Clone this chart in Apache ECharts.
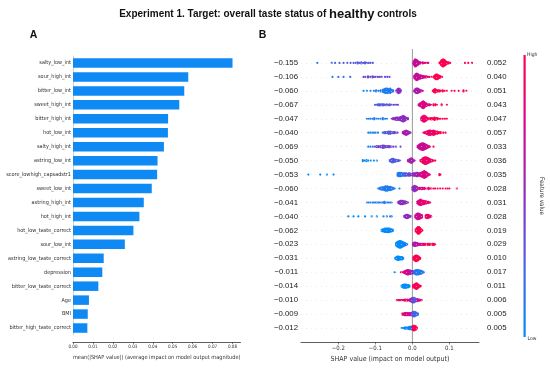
<!DOCTYPE html>
<html>
<head>
<meta charset="utf-8">
<script src="https://cdn.jsdelivr.net/npm/echarts@6/dist/echarts.min.js"></script>
<style>html,body{margin:0;padding:0;background:#fff}#c{width:550px;height:370px}</style>
</head>
<body>
<div id="c"></div>
<script>
// ---- data ----
const categories = ['salty_low_int','sour_high_int','bitter_low_int','sweet_high_int','bitter_high_int','hot_low_int','salty_high_int','astring_low_int','score_lowhigh_capsadstr1','sweet_low_int','astring_high_int','hot_high_int','hot_low_taste_correct','sour_low_int','astring_low_taste_correct','depression','bitter_low_taste_correct','Age','BMI','bitter_high_taste_correct'];
const meanAbsShap = [0.0800,0.0578,0.0558,0.0533,0.0477,0.0476,0.0456,0.0424,0.0422,0.0395,0.0355,0.0333,0.0303,0.0260,0.0154,0.0147,0.0127,0.0080,0.0074,0.0072];
const minLabels = ['−0.155','−0.106','−0.060','−0.067','−0.047','−0.040','−0.069','−0.050','−0.053','−0.060','−0.041','−0.040','−0.062','−0.023','−0.031','−0.011','−0.014','−0.010','−0.009','−0.012'];
const maxLabels = ['0.052','0.040','0.051','0.043','0.047','0.057','0.033','0.036','0.035','0.028','0.031','0.028','0.019','0.029','0.010','0.017','0.011','0.006','0.005','0.005'];
const barTicks = [0,0.01,0.02,0.03,0.04,0.05,0.06,0.07,0.08];
const shapTicks = [-0.2,-0.1,0,0.1];

// beeswarm rows: [SHAP value x1000, feature value (0 low .. 10 high), dots stacked at that x]
const sw_salty_low_int = [[-257,1,1],[-218,2,1],[-209,2,1],[-197,3,1],[-186,3,1],[-176,3,1],[-167,3,1],[-159,3,1],[-153,3,1],[-148,3,2],[-143,3,1],[-138,3,2],[-133,3,1],[-128,3,2],[-123,3,1],[-118,3,1],[-113,3,1],[-107,3,1],
 [3,7,3],[5,7,5],[7,7,7],[9,7,7],[11,7,6],[13,7,5],[15,7,4],[17,7,3],[19,7,2],[21,7,2],[24,8,1],[28,8,2],[32,8,1],[36,8,1],[40,8,1],[43,8,1],
 [73,10,1],[76,10,3],[78,10,5],[80,10,6],[82,10,7],[84,10,7],[86,10,6],[88,10,5],[90,10,4],[92,10,3],[95,10,2],[98,10,2],[102,10,1],[142,10,1],[151,10,1],[161,10,1]];
const sw_sour_high_int = [[-216,1,1],[-200,2,1],[-186,2,1],[-168,2,1],[-132,4,1],[-127,4,1],[-120,4,2],[-114,4,1],[-108,4,2],[-104,4,1],[-99,4,1],[-93,4,1],[-88,4,1],[-83,4,1],[-74,4,1],[-68,4,1],[-62,4,1],
 [5,7,3],[8,7,5],[10,7,6],[12,7,7],[14,7,6],[16,7,5],[19,7,4],[22,7,4],[25,7,3],[28,7,3],[31,8,2],[34,8,2],[38,8,2],[42,8,1],[46,8,1],[52,9,1],
 [58,10,2],[61,10,4],[64,10,5],[67,10,5],[70,10,4],[73,10,3],[76,10,2],[80,10,1]];
const sw_bitter_low_int = [[-132,0,1],[-123,0,1],[-113,0,1],[-104,1,1],[-98,1,2],[-92,1,1],[-86,1,2],[-80,1,3],[-76,1,4],[-72,1,5],[-68,1,5],[-64,1,4],[-60,1,5],[-56,1,3],[-52,1,2],
 [-43,5,2],[-40,5,4],[-37,5,5],[-34,5,4],[-31,5,2],
 [5,6,2],[8,6,4],[11,6,5],[14,6,5],[17,6,4],[20,7,3],[24,7,2],[28,7,1],
 [55,10,1],[58,10,3],[61,10,4],[64,10,3],[67,10,2],[70,10,2],[74,10,2],[78,10,1],[82,10,2],[87,10,1],[93,10,1],[106,10,1],[114,10,1],[125,10,1],[138,10,2],[146,10,1]];
const sw_sweet_high_int = [[-101,2,1],[-97,2,1],[-93,3,2],[-89,3,2],[-85,3,2],[-81,3,2],[-77,3,2],[-73,3,1],[-69,3,2],[-65,3,1],[-61,3,2],[-56,3,1],[-50,4,1],[-44,4,1],[-39,4,1],
 [17,7,2],[20,7,3],[23,8,4],[26,8,6],[29,8,7],[32,8,6],[35,8,4],[38,8,3],[42,8,2],[46,8,2],[50,8,1],
 [57,10,2],[62,10,2],[66,10,1],[79,10,2],[93,10,1]];
const sw_bitter_high_int = [[-123,0,1],[-118,0,1],[-113,1,1],[-108,1,1],[-103,1,2],[-97,1,1],[-92,1,1],[-86,1,1],[-80,1,2],[-74,1,1],[-69,1,1],
 [-56,5,1],[-52,5,2],[-48,5,2],[-44,5,3],[-40,5,3],[-36,5,3],[-32,5,4],[-28,5,5],[-25,5,6],[-22,5,5],[-19,5,4],[-16,5,2],[-12,5,2],
 [24,9,3],[27,9,5],[30,9,6],[33,9,6],[36,9,5],[39,9,3],[42,9,2],
 [48,10,2],[52,10,2],[56,10,2],[60,10,3],[64,10,2],[68,10,2],[72,10,1],[76,10,1],[82,10,1],[88,10,1],[93,10,1]];
const sw_hot_low_int = [[-119,0,1],[-114,0,1],[-109,1,1],[-104,1,1],[-99,1,1],[-93,1,1],
 [-80,2,1],[-76,2,2],[-72,3,2],[-68,3,2],[-64,3,3],[-60,3,3],[-56,3,2],[-52,3,2],[-48,4,2],[-44,4,1],[-40,4,1],
 [-26,6,2],[-23,6,3],[-20,6,4],[-17,6,5],[-14,6,4],[-11,6,3],[-8,5,2],[-5,5,1],
 [30,9,1],[34,9,2],[38,9,3],[42,9,4],[45,9,5],[48,9,5],[51,9,4],[54,9,4],[57,9,5],[60,9,4],[63,9,3],[67,10,3],[71,10,2],[75,10,2],[79,10,1],[84,10,1],[90,10,1]];
const sw_salty_high_int = [[-119,1,1],[-113,1,1],[-107,1,1],[-101,4,1],[-96,4,2],[-91,4,2],[-86,4,2],[-81,4,3],[-77,4,3],[-73,4,2],[-69,4,2],[-65,4,2],[-61,4,2],[-56,4,1],[-51,4,1],[-44,4,1],[-32,4,1],
 [14,7,2],[17,7,4],[20,7,5],[23,7,6],[26,7,7],[29,7,7],[32,7,6],[35,7,5],[38,7,4],[41,8,3],[44,8,2],[47,8,1],[57,9,1]];
const sw_astring_low_int = [[-134,0,2],[-129,0,1],[-124,0,2],[-119,0,1],[-112,0,1],[-104,0,1],[-96,0,1],
 [-61,2,2],[-58,2,3],[-55,3,4],[-52,3,4],[-49,3,3],[-46,3,3],[-42,3,2],[-38,3,2],[-34,3,1],
 [-12,6,2],[-9,6,3],[-6,6,4],[-3,6,5],[0,6,4],[3,6,2],[6,6,1],
 [22,9,2],[25,9,3],[28,9,5],[31,9,6],[34,9,7],[37,9,7],[40,9,6],[43,9,5],[46,9,4],[50,9,3],[54,9,2],[58,10,1],[62,10,1]];
const sw_score_lowhigh_capsadstr1 = [[-281,0,1],[-249,0,1],[-231,0,1],[-213,0,1],
 [-40,1,3],[-37,1,4],[-34,1,4],[-31,1,4],[-28,2,3],[-25,2,3],[-22,2,3],[-19,3,3],[-16,3,3],[-13,3,2],[-10,4,3],[-7,4,3],[-4,4,2],[-1,5,2],[2,5,3],[5,5,3],[8,6,3],[11,6,4],[14,6,4],[17,6,3],[20,7,3],[23,7,4],
 [26,8,5],[29,8,6],[32,8,7],[35,8,6],[38,8,5],[41,8,3],[44,8,2],[47,8,1],[73,10,2],[76,10,1]];
const sw_sweet_low_int = [[-92,1,1],[-88,1,2],[-84,1,3],[-80,1,3],[-76,1,4],[-72,1,5],[-68,1,5],[-64,1,4],[-60,1,4],[-56,1,3],[-52,1,2],[-48,1,1],[-35,1,1],
 [0,5,3],[3,5,5],[6,5,6],[9,5,5],[12,6,4],[15,6,2],
 [20,8,2],[24,8,2],[28,8,2],[32,8,2],[36,8,1],[40,9,1],[44,9,2],[48,9,1],[52,9,1],[58,10,1],[62,10,1],[68,10,1],[75,10,1],[82,10,1],[90,10,1],[95,10,1],[100,10,1],[120,10,1]];
const sw_astring_high_int = [[-123,1,1],[-118,1,1],[-113,1,1],[-108,1,1],[-104,1,1],[-100,1,1],[-96,1,1],[-92,1,1],[-88,1,1],[-84,1,1],[-80,1,1],[-76,1,2],[-72,1,1],[-68,1,1],[-64,1,1],[-60,1,1],[-56,1,1],
 [-38,5,2],[-35,5,3],[-32,5,4],[-29,5,4],[-26,5,4],[-23,5,3],[-20,5,3],[-16,5,2],[-12,5,1],
 [13,8,2],[16,8,4],[19,8,5],[22,8,6],[25,8,5],[28,9,4],[31,9,4],[34,9,3],[37,9,3],[40,9,2],[44,9,2],[48,9,1]];
const sw_hot_high_int = [[-173,0,1],[-159,0,1],[-146,0,1],[-128,0,1],[-110,0,1],[-96,0,1],[-78,1,1],[-69,1,1],[-60,1,1],[-56,1,1],
 [-22,5,2],[-19,5,3],[-16,5,4],[-13,5,4],[-10,5,3],[-7,5,2],[-4,5,1],
 [8,7,3],[11,7,5],[14,7,6],[17,7,6],[20,7,5],[23,8,4],[26,8,3],
 [36,9,3],[39,9,4],[42,9,4],[45,9,3],[48,9,2],[51,9,1]];
const sw_hot_low_taste_correct = [[-83,0,2],[-80,0,3],[-77,0,3],[-74,0,4],[-71,0,4],[-68,0,4],[-65,0,4],[-62,0,4],[-59,0,3],[-56,0,3],[-53,0,2],
 [9,10,3],[12,10,5],[15,10,7],[18,10,7],[21,10,5],[24,10,3],[27,10,1]];
const sw_sour_low_int = [[-44,0,3],[-41,0,5],[-38,0,6],[-35,0,7],[-32,0,7],[-29,0,6],[-26,0,5],[-23,0,4],[-20,1,3],[-17,1,2],[-14,1,1],
 [2,6,3],[5,6,4],[8,6,4],[11,7,3],[14,7,3],[17,7,2],[20,7,2],[23,8,2],[26,8,2],
 [30,9,2],[34,9,2],[38,10,1],[42,10,2],[46,10,2],[50,10,1],[54,10,2],[58,10,2],[61,10,1]];
const sw_astring_low_taste_correct = [[-46,0,2],[-43,0,3],[-40,0,4],[-37,0,4],[-34,0,3],[-31,0,3],[-28,0,3],[-25,0,2],
 [3,10,3],[6,10,5],[9,10,6],[12,10,6],[15,10,5],[18,10,3],[21,10,2]];
const sw_depression = [[-48,0,1],[-31,10,1],[-27,10,1],[-23,8,2],[-20,8,3],[-17,8,4],[-14,7,5],[-11,7,5],[-8,7,4],[-5,6,4],[-2,6,3],[1,5,3],[4,3,3],[7,2,4],[10,1,5],[13,1,5],[16,1,5],[19,1,4],[22,1,4],[25,1,3],[28,1,2],[31,1,1]];
const sw_bitter_low_taste_correct = [[-29,0,2],[-26,0,3],[-23,0,4],[-20,0,4],[-17,0,4],[-14,0,3],[-11,0,3],[-8,0,2],
 [2,10,3],[5,10,4],[8,10,5],[11,10,6],[14,10,5],[17,10,3],[20,10,2],[23,10,1]];
const sw_Age = [[-42,9,1],[-38,9,1],[-35,9,1],[-32,9,1],[-29,9,1],[-26,9,1],[-23,9,1],[-20,9,2],[-17,9,1],[-14,9,2],[-11,9,1],[-8,8,2],[-5,6,3],[-2,5,4],[1,4,5],[4,3,5],[7,3,4],[10,3,3],[13,5,3],[16,7,2],[19,8,2],[22,9,1],[25,9,1]];
const sw_BMI = [[-27,9,2],[-24,9,2],[-21,9,3],[-18,8,3],[-15,8,3],[-12,8,3],[-9,7,3],[-6,7,3],[-3,6,3],[0,4,4],[3,3,5],[6,2,5],[9,2,4],[12,2,3],[15,2,2]];
const sw_bitter_high_taste_correct = [[-29,0,1],[-25,0,1],[-21,0,2],[-18,0,2],[-15,0,2],[-12,0,2],[-9,0,3],[-6,0,3],[-3,1,3],[0,9,4],[3,10,5],[6,10,5],[9,10,4],[12,10,2]];

const swarmRows = [sw_salty_low_int, sw_sour_high_int, sw_bitter_low_int, sw_sweet_high_int, sw_bitter_high_int, sw_hot_low_int, sw_salty_high_int, sw_astring_low_int, sw_score_lowhigh_capsadstr1, sw_sweet_low_int, sw_astring_high_int, sw_hot_high_int, sw_hot_low_taste_correct, sw_sour_low_int, sw_astring_low_taste_correct, sw_depression, sw_bitter_low_taste_correct, sw_Age, sw_BMI, sw_bitter_high_taste_correct];

// ---- beeswarm layout (stack coincident dots around the row centre) ----
const STEP = 0.08;
const swarmData = [];
swarmRows.forEach((row, r) => {
  row.forEach(([x, v, n]) => {
    for (let k = 0; k < n; k++) {
      swarmData.push([x / 1000, r + (k - (n - 1) / 2) * STEP, v]);
    }
  });
});

const narrow = "'Liberation Sans Narrow', 'DejaVu Sans Condensed', 'Liberation Sans', sans-serif";
const arial = "'Liberation Sans', Arial, sans-serif";
const cmap = ['#008bfb', '#4a63e3', '#8a2fc0', '#d6058c', '#ff0051'];

const chart = echarts.init(document.getElementById('c'), null, { renderer: 'canvas' });
chart.setOption({
  animation: false,
  grid: [
    { left: 73, top: 56, width: 167.5, height: 279, containLabel: false, outerBoundsMode: 'none' },
    { left: 301, top: 49, width: 178, height: 293, containLabel: false, outerBoundsMode: 'none' }
  ],
  xAxis: [
    { gridIndex: 0, type: 'value', min: 0, max: 0.084, offset: 7,
      axisLine: { show: true, onZero: false, lineStyle: { color: '#333', width: 0.8 } },
      axisTick: { show: true, length: 2, lineStyle: { color: '#333', width: 0.6 }, customValues: barTicks },
      axisLabel: { customValues: barTicks, formatter: v => v.toFixed(2), fontFamily: narrow, fontSize: 4.6, color: '#333', margin: 2.5 },
      splitLine: { show: false },
      name: 'mean(|SHAP value|) (average impact on model output magnitude)', nameLocation: 'middle', nameGap: 11,
      nameTextStyle: { fontFamily: narrow, fontSize: 5.6, color: '#333' } },
    { gridIndex: 1, type: 'value', min: -0.301, max: 0.18,
      axisLine: { show: true, onZero: false, lineStyle: { color: '#333', width: 0.8 } },
      axisTick: { show: true, length: 2.5, lineStyle: { color: '#333', width: 0.6 }, customValues: shapTicks },
      axisLabel: { customValues: shapTicks, formatter: v => (Math.abs(v) < 1e-9 ? '0.0' : (v < 0 ? '−' : '') + Math.abs(v).toFixed(1)), fontFamily: narrow, fontSize: 6, color: '#333', margin: 3 },
      splitLine: { show: false },
      name: 'SHAP value (impact on model output)', nameLocation: 'middle', nameGap: 12,
      nameTextStyle: { fontFamily: narrow, fontSize: 7, color: '#333' } }
  ],
  yAxis: [
    { gridIndex: 0, type: 'category', data: categories, inverse: true,
      axisLine: { show: true, onZero: false, lineStyle: { color: '#cfcfcf', width: 1 } },
      axisTick: { show: false },
      axisLabel: { fontFamily: narrow, fontSize: 5.5, color: '#333', margin: 2 } },
    { gridIndex: 1, type: 'value', min: -1, max: 20, interval: 1, inverse: true,
      axisLine: { show: false, onZero: false }, axisTick: { show: false },
      axisLabel: { formatter: v => minLabels[v] || '', fontFamily: arial, fontSize: 7.8, color: '#222', margin: 3 },
      splitLine: { show: false } },
    { gridIndex: 1, type: 'value', min: -1, max: 20, interval: 1, inverse: true, position: 'right',
      axisLine: { show: false, onZero: false }, axisTick: { show: false },
      axisLabel: { formatter: v => maxLabels[v] || '', fontFamily: arial, fontSize: 7.8, color: '#222', margin: 8 },
      splitLine: { show: false } }
  ],
  visualMap: [{ show: false, type: 'continuous', seriesIndex: 2, dimension: 2, min: 0, max: 10, inRange: { color: cmap } }],
  series: [
    { type: 'bar', xAxisIndex: 0, yAxisIndex: 0, data: meanAbsShap, barWidth: 9.5, itemStyle: { color: '#0f8af5' }, z: 2 },
    { type: 'line', xAxisIndex: 1, yAxisIndex: 1, data: [[0, -1], [0, 20]], symbol: 'none', lineStyle: { color: '#9a9a9a', width: 1 }, z: 1, silent: true,
      markLine: { silent: true, symbol: 'none', label: { show: false },
        lineStyle: { color: '#d8d8d8', width: 0.5, type: [1, 4] },
        data: categories.map((c, i) => ({ yAxis: i })) } },
    { type: 'scatter', xAxisIndex: 1, yAxisIndex: 1, data: swarmData, symbolSize: 2.2, itemStyle: { opacity: 1 }, z: 3, silent: true }
  ],
  graphic: [
    { type: 'text', x: 268, y: 14, style: {
        text: '{a|Experiment 1. Target: overall taste status of }{b|healthy}{a| controls}',
        align: 'center', verticalAlign: 'middle', fill: '#111',
        rich: { a: { fontFamily: arial, fontSize: 10, fontWeight: 'bold', fill: '#111' }, b: { fontFamily: arial, fontSize: 13, fontWeight: 'bold', fill: '#111' } } } },
    { type: 'text', x: 33.5, y: 35.5, style: { text: 'A', fontFamily: arial, fontSize: 10.5, fontWeight: 'bold', fill: '#111', align: 'center', verticalAlign: 'middle' } },
    { type: 'text', x: 262.5, y: 35.5, style: { text: 'B', fontFamily: arial, fontSize: 10.5, fontWeight: 'bold', fill: '#111', align: 'center', verticalAlign: 'middle' } },
    { type: 'rect', shape: { x: 523.5, y: 55, width: 2.2, height: 282 },
      style: { fill: new echarts.graphic.LinearGradient(0, 0, 0, 1, [
        { offset: 0, color: cmap[4] }, { offset: 0.25, color: cmap[3] }, { offset: 0.5, color: cmap[2] }, { offset: 0.75, color: cmap[1] }, { offset: 1, color: cmap[0] }]) } },
    { type: 'text', x: 527, y: 55, style: { text: 'High', fontFamily: narrow, fontSize: 5, fill: '#333', align: 'left', verticalAlign: 'middle' } },
    { type: 'text', x: 527.5, y: 338.5, style: { text: 'Low', fontFamily: narrow, fontSize: 5, fill: '#333', align: 'left', verticalAlign: 'middle' } },
    { type: 'text', x: 541.5, y: 196, rotation: -Math.PI / 2, style: { text: 'Feature value', fontFamily: narrow, fontSize: 6.2, fill: '#333', align: 'center', verticalAlign: 'middle' } }
  ]
});
</script>
</body>
</html>
